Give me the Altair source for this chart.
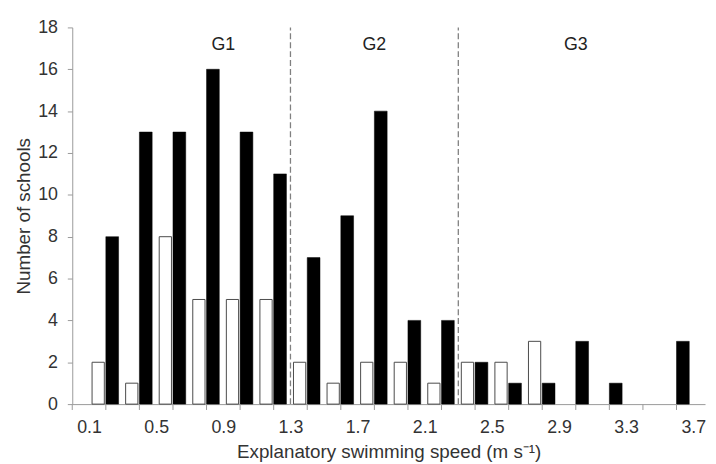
import altair as alt
import pandas as pd

# bin centres (m s^-1) and counts
speed_bins = [0.2, 0.4, 0.6, 0.8, 1.0, 1.2, 1.4, 1.6, 1.8, 2.0, 2.2, 2.4, 2.6, 2.8, 3.0, 3.2, 3.4, 3.6]
white_counts = [2, 1, 8, 5, 5, 5, 2, 1, 2, 2, 1, 2, 2, 3, 0, 0, 0, 0]
black_counts = [8, 13, 13, 16, 13, 11, 7, 9, 14, 4, 4, 2, 1, 1, 3, 1, 0, 3]

x_label_values = [0.1, 0.5, 0.9, 1.3, 1.7, 2.1, 2.5, 2.9, 3.3, 3.7]
x_tick_positions = [0.0, 0.2, 0.4, 0.6, 0.8, 1.0, 1.2, 1.4, 1.6, 1.8, 2.0,
                    2.2, 2.4, 2.6, 2.8, 3.0, 3.2, 3.4, 3.6]
y_ticks = [0, 2, 4, 6, 8, 10, 12, 14, 16, 18]

group_labels = ["G1", "G2", "G3"]
group_x = [0.9, 1.8, 3.0]
group_y = [17.15, 17.15, 17.15]
divider_x = [1.3, 2.3]

FONT = "Liberation Sans"
AXIS_GREY = "#9a9a9a"

rows = []
for s, w, b in zip(speed_bins, white_counts, black_counts):
    rows.append({"speed": s, "count": w, "series": "white"})
    rows.append({"speed": s, "count": b, "series": "black"})
df = pd.DataFrame(rows)
df = df[df["count"] > 0]

x_scale = alt.Scale(domain=[0, 3.77], nice=False, zero=False)
y_scale = alt.Scale(domain=[0, 18], nice=False)

x_axis = alt.Axis(
    values=x_label_values,
    format=".1f",
    ticks=False,
    domainColor=AXIS_GREY,
    labelFontSize=18,
    labelColor="#333333",
    labelPadding=15,
    labelOverlap=False,
    labelFlush=False,
    labelBound=False,
    grid=False,
    title="Explanatory swimming speed (m s⁻¹)",
    titleFontSize=19,
    titleFontWeight="normal",
    titleColor="#333333",
    titlePadding=6,
)

y_axis = alt.Axis(
    values=y_ticks,
    tickSize=5,
    tickColor=AXIS_GREY,
    domainColor=AXIS_GREY,
    labelFontSize=18,
    labelColor="#333333",
    labelPadding=10,
    grid=False,
    title="Number of schools",
    titleFontSize=19,
    titleFontWeight="normal",
    titleColor="#333333",
    titlePadding=4,
)

base = alt.Chart(df)

white_bars = base.transform_filter("datum.series == 'white'").transform_calculate(
    x0="datum.speed - 0.082", x1="datum.speed - 0.009"
).mark_bar(fill="white", stroke="#4a4a4a", strokeWidth=1).encode(
    x=alt.X("x0:Q", scale=x_scale, axis=x_axis),
    x2="x1:Q",
    y=alt.Y("count:Q", scale=y_scale, axis=y_axis),
    y2=alt.datum(0),
)

black_bars = base.transform_filter("datum.series == 'black'").transform_calculate(
    x0="datum.speed + 0.0", x1="datum.speed + 0.076"
).mark_bar(fill="black", stroke="black", strokeWidth=0.5).encode(
    x=alt.X("x0:Q", scale=x_scale, axis=x_axis),
    x2="x1:Q",
    y=alt.Y("count:Q", scale=y_scale, axis=y_axis),
    y2=alt.datum(0),
)

# small downward tick marks at the bin boundaries of the x axis
x_ticks = alt.Chart(pd.DataFrame({"t": x_tick_positions})).mark_rule(
    color=AXIS_GREY, strokeWidth=1
).encode(
    x=alt.X("t:Q", scale=x_scale, axis=x_axis),
    y=alt.datum(0),
    y2=alt.datum(-0.28),
)

dividers = alt.Chart(pd.DataFrame({"x": divider_x})).mark_rule(
    color="#808080", strokeDash=[6, 3], strokeWidth=1.3
).encode(
    x=alt.X("x:Q", scale=x_scale, axis=x_axis),
    y=alt.datum(0),
    y2=alt.datum(18),
)

groups = alt.Chart(pd.DataFrame({"label": group_labels, "x": group_x, "y": group_y})).mark_text(
    font=FONT, fontSize=18, color="#222222"
).encode(
    x=alt.X("x:Q", scale=x_scale, axis=x_axis),
    y=alt.Y("y:Q", scale=y_scale, axis=y_axis),
    text="label:N",
)

chart = alt.layer(white_bars, black_bars, x_ticks, dividers, groups).properties(
    width=640,
    height=381,
    padding={"left": 65, "top": 17, "right": 3, "bottom": 64},
    autosize=alt.AutoSizeParams(type="none"),
).configure_view(strokeWidth=0).configure_axis(
    labelFont=FONT, titleFont=FONT
)

chart.save("out.html", embed_options={"renderer": "svg", "actions": False})
